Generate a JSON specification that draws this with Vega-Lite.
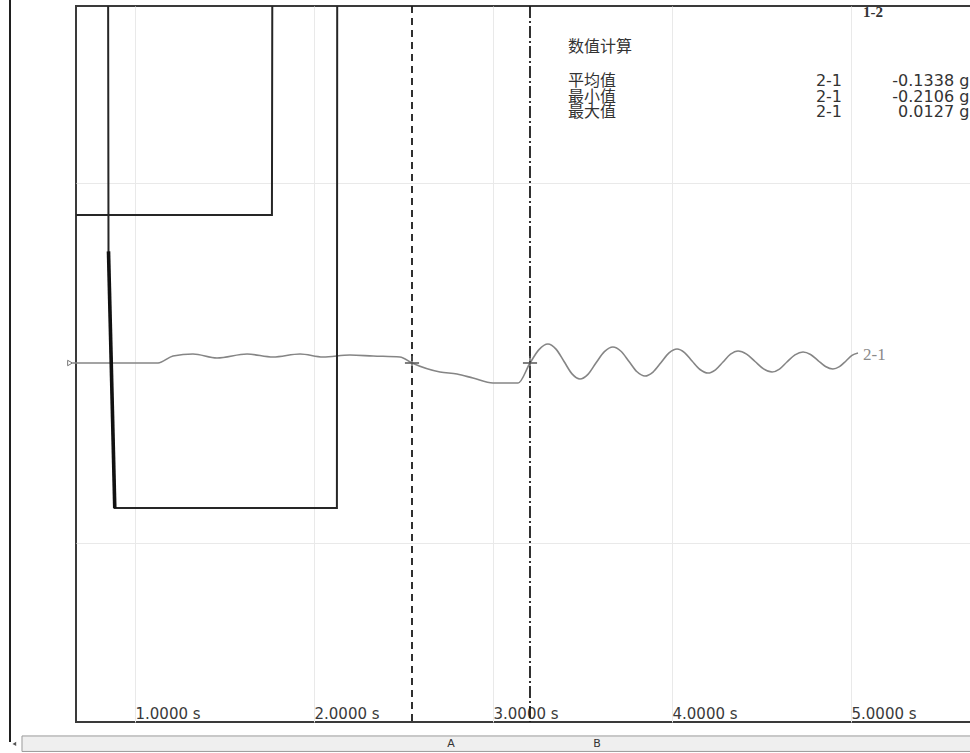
{
  "$schema": "https://vega.github.io/schema/vega-lite/v6.json",
  "width": 895,
  "height": 716,
  "autosize": {"type": "none"},
  "padding": {"left": 76, "top": 6, "right": 0, "bottom": 31},
  "background": "white",
  "config": {"view": {"stroke": "#3a3a3a", "strokeWidth": 2}},
  "datasets": {
    "tr21": [
      {"t": 0.65, "v": 0},
      {"t": 0.9, "v": 0},
      {"t": 1.05, "v": 0},
      {"t": 1.1285, "v": 0},
      {"t": 1.2123, "v": 1.94},
      {"t": 1.324, "v": 2.5},
      {"t": 1.458, "v": 1.39},
      {"t": 1.626, "v": 2.5},
      {"t": 1.771, "v": 1.67},
      {"t": 1.922, "v": 2.5},
      {"t": 2.05, "v": 1.67},
      {"t": 2.201, "v": 2.22},
      {"t": 2.33, "v": 1.94},
      {"t": 2.48, "v": 1.67},
      {"t": 2.5475, "v": 0},
      {"t": 2.704, "v": -2.5},
      {"t": 2.799, "v": -3.06},
      {"t": 2.888, "v": -4.17},
      {"t": 3.0, "v": -5.56},
      {"t": 3.14, "v": -5.56},
      {"t": 3.2067, "v": 0},
      {"t": 3.2569, "v": 3.73},
      {"t": 3.307, "v": 5.28},
      {"t": 3.352, "v": 3.86},
      {"t": 3.397, "v": 0.42},
      {"t": 3.4415, "v": -3.02},
      {"t": 3.486, "v": -4.44},
      {"t": 3.5305, "v": -3.14},
      {"t": 3.575, "v": 0},
      {"t": 3.6225, "v": 3.14},
      {"t": 3.67, "v": 4.44},
      {"t": 3.715, "v": 3.26},
      {"t": 3.76, "v": 0.42},
      {"t": 3.8045, "v": -2.43},
      {"t": 3.849, "v": -3.61},
      {"t": 3.894, "v": -2.51},
      {"t": 3.939, "v": 0.14},
      {"t": 3.9835, "v": 2.79},
      {"t": 4.028, "v": 3.89},
      {"t": 4.07, "v": 2.91},
      {"t": 4.112, "v": 0.56},
      {"t": 4.1565, "v": -1.8},
      {"t": 4.201, "v": -2.78},
      {"t": 4.243, "v": -1.88},
      {"t": 4.285, "v": 0.28},
      {"t": 4.327, "v": 2.44},
      {"t": 4.369, "v": 3.33},
      {"t": 4.4165, "v": 2.48},
      {"t": 4.464, "v": 0.42},
      {"t": 4.5115, "v": -1.64},
      {"t": 4.559, "v": -2.5},
      {"t": 4.6005, "v": -1.69},
      {"t": 4.642, "v": 0.28},
      {"t": 4.687, "v": 2.25},
      {"t": 4.732, "v": 3.06},
      {"t": 4.774, "v": 2.37},
      {"t": 4.816, "v": 0.69},
      {"t": 4.8575, "v": -0.98},
      {"t": 4.899, "v": -1.67},
      {"t": 4.9355, "v": -1.02},
      {"t": 4.972, "v": 0.56},
      {"t": 5.0055, "v": 2.13},
      {"t": 5.039, "v": 2.78}
    ],
    "blk": [
      {"series": "1-1", "i": 0, "t": 0.6, "v": 41.1},
      {"series": "1-1", "i": 1, "t": 1.765, "v": 41.1},
      {"series": "1-1", "i": 2, "t": 1.768, "v": 130},
      {"series": "1-2", "i": 0, "t": 0.6, "v": 130},
      {"series": "1-2", "i": 1, "t": 0.849, "v": 130},
      {"series": "1-2", "i": 2, "t": 0.852, "v": 31},
      {"series": "1-2", "i": 3, "t": 0.887, "v": -40.3},
      {"series": "1-2", "i": 4, "t": 2.128, "v": -40.3},
      {"series": "1-2", "i": 5, "t": 2.13, "v": 130}
    ],
    "edge": [
      {"i": 0, "t": 0.852, "v": 31},
      {"i": 1, "t": 0.887, "v": -40.3}
    ],
    "cursors": [
      {"cursor": "A", "t": 2.5475},
      {"cursor": "B", "t": 3.2067}
    ],
    "crosses": [
      {"t": 2.5475, "v": 0},
      {"t": 3.2067, "v": 0}
    ],
    "cjk": [
      {"text": "数值计算", "t": 3.419, "v": 87.8},
      {"text": "平均值", "t": 3.419, "v": 78.3},
      {"text": "最小值", "t": 3.419, "v": 73.9},
      {"text": "最大值", "t": 3.419, "v": 69.6}
    ],
    "nums": [
      {"text": "2-1", "t": 4.95, "v": 78.3},
      {"text": "2-1", "t": 4.95, "v": 73.9},
      {"text": "2-1", "t": 4.95, "v": 69.6},
      {"text": "-0.1338 g", "t": 5.661, "v": 78.3},
      {"text": "-0.2106 g", "t": 5.661, "v": 73.9},
      {"text": "0.0127 g", "t": 5.661, "v": 69.6}
    ]
  },
  "layer": [
    {
      "data": {"name": "tr21"},
      "mark": {"type": "line", "color": "#858585", "strokeWidth": 1.6, "interpolate": "monotone"},
      "encoding": {
        "x": {"field": "t", "type": "quantitative", "title": null,
          "scale": {"domain": [0.6704, 5.6704], "nice": false, "zero": false},
          "axis": {"values": [1, 2, 3, 4, 5], "format": ".4f", "labelExpr": "datum.label + ' s'",
            "grid": true, "gridColor": "#e9e9e9", "ticks": false, "domain": false,
            "labelAlign": "left", "labelBaseline": "alphabetic", "labelPadding": -4,
            "labelFont": "DejaVu Sans", "labelFontSize": 15, "labelColor": "#3a3a3a",
            "labelFlush": false, "labelOverlap": false}},
        "y": {"field": "v", "type": "quantitative", "title": null,
          "scale": {"domain": [-99.72, 99.17], "nice": false, "zero": false},
          "axis": {"values": [-50, 50], "grid": true, "gridColor": "#e9e9e9", "labels": false, "ticks": false, "domain": false}}
      }
    },
    {
      "data": {"name": "blk"},
      "mark": {"type": "line", "color": "#262626", "strokeWidth": 2, "clip": true},
      "encoding": {
        "x": {"field": "t", "type": "quantitative", "title": null},
        "y": {"field": "v", "type": "quantitative", "title": null},
        "detail": {"field": "series"},
        "order": {"field": "i"}
      }
    },
    {
      "data": {"name": "edge"},
      "mark": {"type": "line", "color": "#111111", "strokeWidth": 3.6, "clip": true},
      "encoding": {
        "x": {"field": "t", "type": "quantitative", "title": null},
        "y": {"field": "v", "type": "quantitative", "title": null},
        "order": {"field": "i"}
      }
    },
    {
      "data": {"name": "cursors"},
      "mark": {"type": "rule", "color": "#1a1a1a", "strokeWidth": 1.8},
      "encoding": {
        "x": {"field": "t", "type": "quantitative", "title": null},
        "strokeDash": {"field": "cursor", "type": "nominal", "legend": null,
          "scale": {"domain": ["A", "B"], "range": [[7, 5], [12, 3, 2, 3]]}}
      }
    },
    {
      "data": {"name": "crosses"},
      "mark": {"type": "point", "shape": "M-1,0L1,0M0,-1L0,1", "size": 200, "stroke": "#555555", "strokeWidth": 1.3, "filled": false, "opacity": 1},
      "encoding": {
        "x": {"field": "t", "type": "quantitative", "title": null},
        "y": {"field": "v", "type": "quantitative", "title": null}
      }
    },
    {
      "data": {"values": [{"t": 0.637, "v": 0}]},
      "mark": {"type": "point", "shape": "triangle-right", "size": 30, "stroke": "#777777", "fill": "white", "filled": true, "strokeWidth": 1, "opacity": 1},
      "encoding": {
        "x": {"field": "t", "type": "quantitative", "title": null},
        "y": {"field": "v", "type": "quantitative", "title": null}
      }
    },
    {
      "data": {"values": [{"t": 0.3017, "v": 101, "v2": -105.3}]},
      "mark": {"type": "rule", "color": "#1f1f1f", "strokeWidth": 2},
      "encoding": {
        "x": {"field": "t", "type": "quantitative", "title": null},
        "y": {"field": "v", "type": "quantitative", "title": null},
        "y2": {"field": "v2"}
      }
    },
    {
      "data": {"values": [{"t": 0.3687, "t2": 5.7, "v": -103.6, "v2": -107.9}]},
      "mark": {"type": "rect", "fill": "#efefef", "stroke": "#9a9a9a", "strokeWidth": 1},
      "encoding": {
        "x": {"field": "t", "type": "quantitative", "title": null},
        "x2": {"field": "t2"},
        "y": {"field": "v", "type": "quantitative", "title": null},
        "y2": {"field": "v2"}
      }
    },
    {
      "data": {"values": [{"t": 0.326, "v": -105.8}]},
      "mark": {"type": "point", "shape": "triangle-left", "size": 18, "fill": "#555555", "filled": true, "opacity": 1},
      "encoding": {
        "x": {"field": "t", "type": "quantitative", "title": null},
        "y": {"field": "v", "type": "quantitative", "title": null}
      }
    },
    {
      "data": {"values": [{"text": "A", "t": 2.765, "v": -105.8}, {"text": "B", "t": 3.581, "v": -105.8}]},
      "mark": {"type": "text", "font": "DejaVu Sans", "fontSize": 11, "color": "#333333", "baseline": "middle", "align": "center"},
      "encoding": {
        "x": {"field": "t", "type": "quantitative", "title": null},
        "y": {"field": "v", "type": "quantitative", "title": null},
        "text": {"field": "text"}
      }
    },
    {
      "data": {"name": "cjk"},
      "mark": {"type": "text", "font": "Noto Sans CJK SC", "fontSize": 16, "color": "#333333", "baseline": "middle", "align": "left"},
      "encoding": {
        "x": {"field": "t", "type": "quantitative", "title": null},
        "y": {"field": "v", "type": "quantitative", "title": null},
        "text": {"field": "text"}
      }
    },
    {
      "data": {"name": "nums"},
      "mark": {"type": "text", "font": "DejaVu Sans", "fontSize": 16, "color": "#333333", "baseline": "middle", "align": "right"},
      "encoding": {
        "x": {"field": "t", "type": "quantitative", "title": null},
        "y": {"field": "v", "type": "quantitative", "title": null},
        "text": {"field": "text"}
      }
    },
    {
      "data": {"values": [{"text": "2-1", "t": 5.067, "v": 2.2}]},
      "mark": {"type": "text", "font": "Liberation Serif", "fontSize": 17, "color": "#8a8a8a", "baseline": "middle", "align": "left"},
      "encoding": {
        "x": {"field": "t", "type": "quantitative", "title": null},
        "y": {"field": "v", "type": "quantitative", "title": null},
        "text": {"field": "text"}
      }
    },
    {
      "data": {"values": [{"text": "1-2", "t": 5.067, "v": 97.4}]},
      "mark": {"type": "text", "font": "Liberation Serif", "fontSize": 15, "fontWeight": "bold", "color": "#333333", "baseline": "middle", "align": "left"},
      "encoding": {
        "x": {"field": "t", "type": "quantitative", "title": null},
        "y": {"field": "v", "type": "quantitative", "title": null},
        "text": {"field": "text"}
      }
    }
  ]
}
